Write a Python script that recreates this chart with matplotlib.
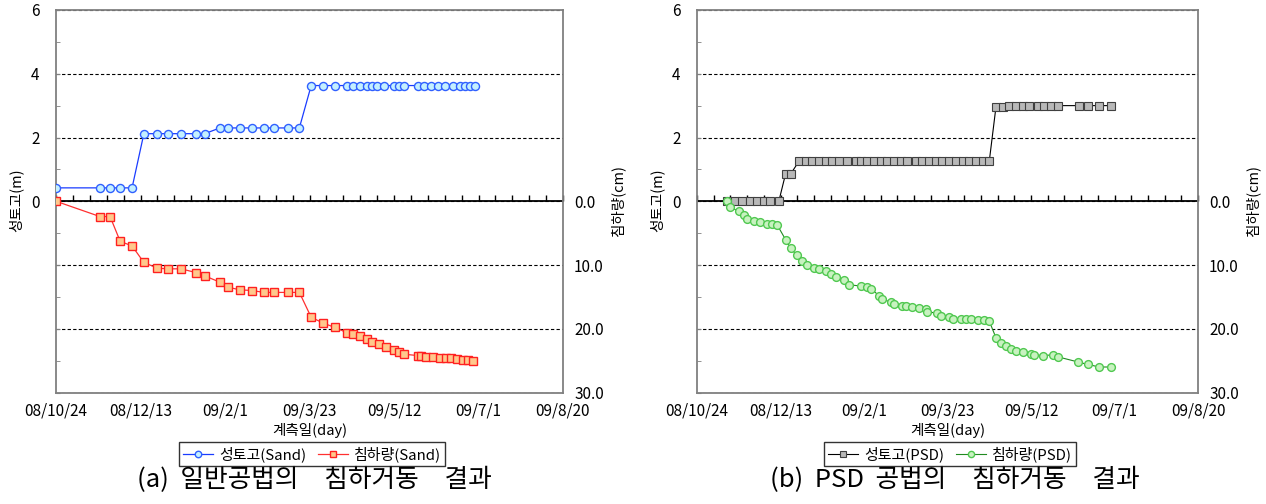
import matplotlib
matplotlib.use('Agg')
import matplotlib.pyplot as plt
from matplotlib.lines import Line2D

plt.rcParams['font.family'] = ['Noto Sans CJK KR', 'DejaVu Sans']

# x in days after 08/10/24
date_labels = ['08/10/24', '08/12/13', '09/2/1', '09/3/23', '09/5/12', '09/7/1', '09/8/20']
date_days = [0, 50, 100, 150, 200, 250, 300]
minor_days = list(range(0, 301, 10))

# (a) sand drain
sand_fill_days = [0, 26, 32, 38, 45, 52, 60, 66, 74, 83, 88, 97, 102, 109, 116, 123, 129, 137, 144,
                  151, 158, 165, 172, 176, 180, 184, 187, 190, 194, 200, 203, 206, 214, 218, 222,
                  226, 230, 235, 239, 242, 245, 248]
sand_fill = [0.42] * 5 + [2.12] * 6 + [2.3] * 8 + [3.63] * 23
sand_settle_days = [0, 26, 32, 38, 45, 52, 60, 66, 74, 83, 88, 97, 102, 109, 116, 123, 129, 137, 144,
                    151, 158, 165, 172, 176, 180, 184, 187, 191, 195, 200, 203, 206, 214, 216, 219,
                    223, 227, 231, 234, 237, 241, 244, 247]
sand_settle = [0, 2.4, 2.4, 6.3, 7.0, 9.6, 10.5, 10.6, 10.6, 11.2, 11.7, 12.7, 13.5, 13.9, 14.0,
               14.3, 14.3, 14.3, 14.3, 18.2, 19.1, 19.8, 20.6, 20.9, 21.2, 21.6, 22.1, 22.4, 22.8,
               23.3, 23.7, 24.0, 24.2, 24.3, 24.4, 24.5, 24.6, 24.6, 24.6, 24.8, 24.9, 24.9, 25.1]

# (b) PSD
psd_fill_days = [18, 23, 27, 32, 36, 40, 44, 49, 53, 56,
                 61, 65, 69, 73, 77, 81, 85, 90, 95, 98, 102, 106, 110, 114, 118, 122, 126, 131,
                 135, 139, 143, 147, 151, 155, 159, 163, 167, 171, 175,
                 179, 183, 187, 191, 195, 199, 204, 208, 212, 216, 229, 234, 241, 248]
psd_fill = [0.0] * 8 + [0.85, 0.85] + [1.25] * 29 + [2.95, 2.95] + [3.0] * 12
psd_settle_days = [18, 20, 25, 28, 30, 34, 38, 42, 45, 48, 53, 56, 60, 63, 66, 70, 73, 77, 80, 83,
                   88, 91, 98, 102, 104, 109, 111, 116, 118, 123, 125, 129, 133, 137, 138, 144,
                   146, 151, 153, 158, 161, 164, 168, 172, 175, 179, 182, 185, 188, 191, 195, 200,
                   202, 207, 213, 216, 228, 234, 241, 248]
psd_settle = [0, 0.9, 1.6, 2.2, 2.8, 3.1, 3.2, 3.5, 3.6, 3.7, 6.0, 7.4, 8.5, 9.4, 10.0, 10.4, 10.7,
              11.0, 11.4, 11.9, 12.4, 13.1, 13.3, 13.5, 13.7, 14.8, 15.4, 15.8, 16.1, 16.4, 16.4,
              16.6, 16.8, 16.9, 17.3, 17.6, 18.0, 18.1, 18.4, 18.5, 18.4, 18.5, 18.6, 18.6, 18.8,
              21.4, 22.2, 22.7, 23.2, 23.5, 23.7, 23.9, 24.1, 24.2, 24.1, 24.4, 25.2, 25.6, 26.0, 26.0]

FRAME = '#808080'
W, H = 1266, 504


def draw_panel(fig, x0, x1, fill_days, fill, settle_days, settle, fill_style, settle_style):
    top, bottom = 10, 392.5
    ax = fig.add_axes([x0 / W, 1 - bottom / H, (x1 - x0) / W, (bottom - top) / H])
    ax.set_xlim(0, 300)
    ax.set_ylim(-6, 6)
    for s in ax.spines.values():
        s.set_color(FRAME)
        s.set_linewidth(1.3)

    ax.set_xticks(date_days)
    ax.set_xticklabels(date_labels)
    ax.tick_params(axis='x', length=0, pad=7, labelsize=11)

    ax.set_yticks(range(-6, 7, 2))
    ax.set_yticklabels(['' if v < 0 else str(v) for v in range(-6, 7, 2)])
    ax.set_yticks(range(-5, 6, 2), minor=True)
    ax.tick_params(axis='y', which='both', direction='in', length=3, color=FRAME,
                   labelsize=11, pad=12)
    ax.yaxis.grid(True, which='major', color='black', linestyle=(0, (3, 2)), linewidth=0.8)
    ax.set_axisbelow(True)

    # zero line acting as the time axis, with small upward ticks every 10 days
    ax.axhline(0, color='black', lw=1.3, zorder=2)
    ax.plot(minor_days, [0] * len(minor_days), ls='none', marker=2, ms=4, mew=1.0,
            color='black', zorder=2, clip_on=False)

    ax.plot(fill_days, fill, zorder=3, **fill_style)

    ax2 = ax.twinx()
    ax2.set_ylim(30, -30)
    ax2.set_yticks([0, 10, 20, 30])
    ax2.set_yticklabels(['0.0', '10.0', '20.0', '30.0'])
    ax2.tick_params(axis='y', length=0, labelsize=11, pad=8)
    for s in ax2.spines.values():
        s.set_visible(False)
    ax2.plot(settle_days, settle, zorder=3, **settle_style)

    cx = (x0 + x1) / 2
    fig.text(cx / W, 1 - 430 / H, '계측일(day)', ha='center', va='center', fontsize=10.5)
    fig.text((x0 - 40) / W, 1 - 200 / H, '성토고(m)', rotation=90, ha='center', va='center',
             fontsize=10.5)
    fig.text((x1 + 55) / W, 1 - 201 / H, '침하량(cm)', rotation=90, ha='center', va='center',
             fontsize=10.5)
    return ax, ax2


fig = plt.figure(figsize=(W / 100, H / 100), dpi=100)

blue = dict(color='#1a3cff', lw=0.9, marker='o', ms=5.8, mfc='#c4f0ff', mec='#3060ff', mew=1.0)
red = dict(color='#ff3030', lw=0.9, marker='s', ms=6.0, mfc='#ffc88c', mec='#ff2020', mew=1.0)
grey = dict(color='black', lw=0.8, marker='s', ms=5.6, mfc='#b8b8b8', mec='#404040', mew=0.8)
green = dict(color='#208a20', lw=0.8, marker='o', ms=5.6, mfc='#c8f2c0', mec='#50c850', mew=1.0)

draw_panel(fig, 56, 563, sand_fill_days, sand_fill, sand_settle_days, sand_settle, blue, red)
draw_panel(fig, 697, 1198, psd_fill_days, psd_fill, psd_settle_days, psd_settle, grey, green)


def legend_at(x, styles, labels):
    handles = [Line2D([], [], **{**st, 'ms': st['ms'] * 0.8}) for st in styles]
    leg = fig.legend(handles, labels, loc='center', bbox_to_anchor=(x, 1 - 454 / H), ncol=2,
                     fontsize=10.8, frameon=True, fancybox=False, handlelength=2.0,
                     handletextpad=0.4, columnspacing=0.8, borderpad=0.25, borderaxespad=0)
    leg.get_frame().set_edgecolor('black')
    leg.get_frame().set_linewidth(1.0)


legend_at(312 / W, [blue, red], ['성토고(Sand)', '침하량(Sand)'])
legend_at(950 / W, [grey, green], ['성토고(PSD)', '침하량(PSD)'])

fig.text(314 / W, 1 - 480 / H, '(a)  일반공법의\u3000침하거동\u3000결과', ha='center', va='center',
         fontsize=18.5)
fig.text(955 / W, 1 - 480 / H, '(b)  PSD  공법의\u3000침하거동\u3000결과', ha='center', va='center',
         fontsize=18.5)

fig.savefig('out.png', dpi=100)
